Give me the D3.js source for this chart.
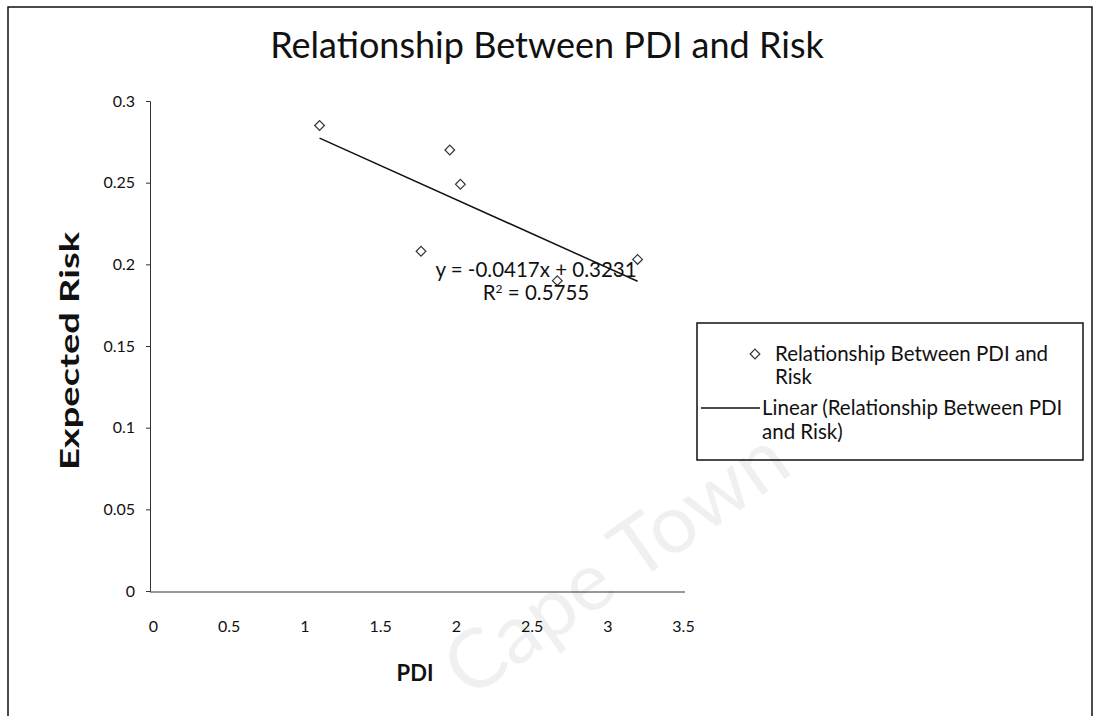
<!DOCTYPE html>
<html>
<head>
<meta charset="utf-8">
<script src="https://cdn.jsdelivr.net/npm/d3@7"></script>
<style>
  body { margin: 0; background: #fff; }
  svg { display: block; }
</style>
</head>
<body>
<div class="chart"></div>
<script>
// Data
const pdi = [1.1, 1.96, 2.03, 1.77, 2.67, 3.2];
const risk = [0.285, 0.27, 0.249, 0.208, 0.19, 0.203];
const xTicks = [0, 0.5, 1, 1.5, 2, 2.5, 3, 3.5];
const yTicks = [0, 0.05, 0.1, 0.15, 0.2, 0.25, 0.3];
const trendSlope = -0.0417;
const trendIntercept = 0.3231;
const rSquared = "0.5755";

const width = 1099, height = 716;
const font = "Lato, 'Open Sans', sans-serif";

const svg = d3.select(".chart")
    .append("svg")
    .attr("width", width)
    .attr("height", height);

// outer border
svg.append("rect")
    .attr("x", 8).attr("y", 7)
    .attr("width", 1084).attr("height", 720)
    .attr("fill", "none")
    .attr("stroke", "#111")
    .attr("stroke-width", 1.5);

// title
svg.append("text")
    .attr("x", 547).attr("y", 58)
    .attr("text-anchor", "middle")
    .style("font-family", font)
    .style("font-size", "36px")
    .style("fill", "#111")
    .text("Relationship Between PDI and Risk");

// scales
const x = d3.scaleLinear().domain([0, 3.5]).range([153, 683]);
const y = d3.scaleLinear().domain([0, 0.3]).range([591, 101]);

// axes
const yAxis = svg.append("g")
    .attr("transform", "translate(150,0)")
    .call(d3.axisLeft(y).tickValues(yTicks).tickSize(4).tickPadding(11)
        .tickFormat(d => d === 0 ? "0" : String(+d.toFixed(2))));
const xAxis = svg.append("g")
    .attr("transform", "translate(0,592)")
    .call(d3.axisBottom(x).tickValues(xTicks).tickSize(0).tickPadding(29)
        .tickFormat(d => String(d)));

[xAxis, yAxis].forEach(g => {
    g.select(".domain").attr("stroke", "#333").attr("stroke-width", 1);
    g.selectAll(".tick line").attr("stroke", "#333");
    g.selectAll("text")
        .style("font-family", font)
        .style("font-size", "16px")
        .style("fill", "#111");
});
xAxis.select(".domain").attr("d", "M150,0H685");

// axis titles
svg.append("text")
    .attr("transform", "translate(79,351) rotate(-90)")
    .attr("text-anchor", "middle")
    .attr("textLength", 238)
    .attr("lengthAdjust", "spacingAndGlyphs")
    .style("font-family", font)
    .style("font-weight", "bold")
    .style("font-size", "26px")
    .style("fill", "#111")
    .text("Expected Risk");

svg.append("text")
    .attr("x", 415).attr("y", 681)
    .attr("text-anchor", "middle")
    .style("font-family", font)
    .style("font-weight", "bold")
    .style("font-size", "22px")
    .style("fill", "#111")
    .text("PDI");

// trend line over the data range
const xMin = d3.min(pdi), xMax = d3.max(pdi);
svg.append("line")
    .attr("x1", x(xMin)).attr("y1", y(trendSlope * xMin + trendIntercept))
    .attr("x2", x(xMax)).attr("y2", y(trendSlope * xMax + trendIntercept))
    .attr("stroke", "#111")
    .attr("stroke-width", 1.5);

// points
const diamond = d3.symbol().type(d3.symbolDiamond2).size(60);
svg.selectAll("path.pt")
    .data(pdi.map((p, i) => [p, risk[i]]))
    .enter()
    .append("path")
    .attr("class", "pt")
    .attr("d", diamond)
    .attr("transform", d => `translate(${x(d[0])},${y(d[1])})`)
    .attr("fill", "#fff")
    .attr("stroke", "#333")
    .attr("stroke-width", 1.2);

// equation
svg.append("text")
    .attr("x", 536).attr("y", 277)
    .attr("text-anchor", "middle")
    .style("font-family", font)
    .style("font-size", "20.5px")
    .style("fill", "#111")
    .text(`y = ${trendSlope}x + ${trendIntercept}`);
const r2 = svg.append("text")
    .attr("x", 536).attr("y", 300)
    .attr("text-anchor", "middle")
    .style("font-family", font)
    .style("font-size", "20.5px")
    .style("fill", "#111");
r2.append("tspan").text("R");
r2.append("tspan").attr("dy", -7).style("font-size", "12px").text("2");
r2.append("tspan").attr("dy", 7).text(` = ${rSquared}`);

// legend
const lg = svg.append("g").attr("transform", "translate(697,323)");
lg.append("rect")
    .attr("width", 386).attr("height", 137)
    .attr("fill", "#fff")
    .attr("stroke", "#111")
    .attr("stroke-width", 1.5);
lg.append("path")
    .attr("d", diamond)
    .attr("transform", "translate(58,31)")
    .attr("fill", "#fff")
    .attr("stroke", "#333")
    .attr("stroke-width", 1.2);
lg.append("line")
    .attr("x1", 4).attr("x2", 63)
    .attr("y1", 85).attr("y2", 85)
    .attr("stroke", "#111")
    .attr("stroke-width", 1.5);
const legendLines = [
    ["Relationship Between PDI and", 78, 38],
    ["Risk", 78, 61],
    ["Linear (Relationship Between PDI", 65, 92],
    ["and Risk)", 65, 116]
];
lg.selectAll("text.lab")
    .data(legendLines)
    .enter()
    .append("text")
    .attr("class", "lab")
    .attr("x", d => d[1]).attr("y", d => d[2])
    .style("font-family", font)
    .style("font-size", "20.5px")
    .style("fill", "#111")
    .text(d => d[0]);

// watermark, laid over the page like the scan's stamp
svg.append("text")
    .attr("transform", "translate(632,586) rotate(-35)")
    .attr("text-anchor", "middle")
    .style("font-family", font)
    .style("font-size", "82px")
    .style("fill", "#000")
    .style("fill-opacity", 0.06)
    .text("Cape Town");
</script>
</body>
</html>
